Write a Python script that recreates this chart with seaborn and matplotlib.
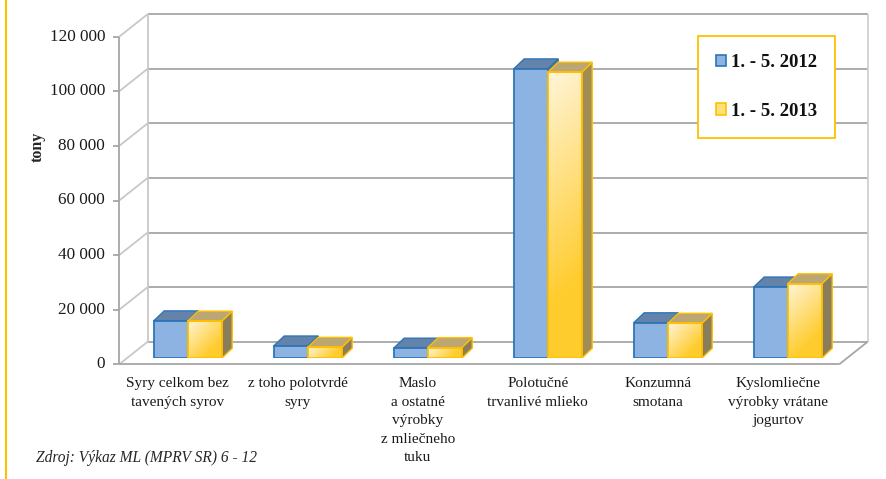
import numpy as np
import pandas as pd
import matplotlib
matplotlib.use("Agg")
import matplotlib.pyplot as plt
import seaborn as sns
from matplotlib.patches import Polygon, Patch
from matplotlib.lines import Line2D

# ---------------- data ----------------
categories = [
    "Syry celkom bez\ntavených syrov",
    "z toho polotvrdé\nsyry",
    "Maslo\na ostatné\nvýrobky\nz mliečneho\ntuku",
    "Polotučné\ntrvanlivé mlieko",
    "Konzumná\nsmotana",
    "Kyslomliečne\nvýrobky vrátane\njogurtov",
]
series_names = ["1. - 5. 2012", "1. - 5. 2013"]
values_2012 = [13700, 4500, 3700, 106000, 13000, 26100]
values_2013 = [13600, 4000, 3900, 104800, 12800, 27300]
y_ticks = [0, 20000, 40000, 60000, 80000, 100000, 120000]
y_tick_labels = ["0", "20 000", "40 000", "60 000", "80 000", "100 000", "120 000"]
y_label = "tony"
source_text = "Zdroj: Výkaz ML (MPRV SR) 6 - 12"

# ---------------- style ----------------
sns.set_style("white")
plt.rcParams["font.family"] = ["Liberation Serif", "DejaVu Serif"]

W, H = 887, 479
fig = plt.figure(figsize=(W / 100, H / 100), dpi=100)

# bar plane axes (pixel geometry)
ax_left, ax_right = 127.7, 847.7
ax_bottom_px, ax_top_px = 358.3, 30.7
ax = fig.add_axes([ax_left / W, (H - ax_bottom_px) / H,
                   (ax_right - ax_left) / W, (ax_bottom_px - ax_top_px) / H])

blue, blue_edge, blue_top = "#8DB3E2", "#2E75B6", "#6383AA"
yel_edge, yel_top, yel_side = "#FFC000", "#BCA673", "#8A7D5C"

df = pd.DataFrame({
    "cat": categories * 2,
    "val": values_2012 + values_2013,
    "series": [series_names[0]] * len(categories) + [series_names[1]] * len(categories),
})
sns.barplot(data=df, x="cat", y="val", hue="series", palette=[blue, "#FFD84D"],
            width=0.567, saturation=1, ax=ax, legend=False,
            edgecolor=blue_edge, linewidth=1.3)

xmin, xmax = -0.5, len(categories) - 0.5
ymin, ymax = y_ticks[0], y_ticks[-1]
ax.set_xlim(xmin, xmax)
ax.set_ylim(ymin, ymax)
ax.axis("off")

sx = (ax_right - ax_left) / (xmax - xmin)      # px per category unit
sy = (ax_bottom_px - ax_top_px) / (ymax - ymin)  # px per value unit


def P(x, y, dpx=0.0, dpy=0.0):
    """data point shifted by pixel offsets (dpx right, dpy up)"""
    return (x + dpx / sx, y + dpy / sy)


BACK = (20.0, 16.6)
FRONT = (-8.5, -6.0)
grid_c, wall_c = "#A6A6A6", "#C8C8C8"


def seg(p, q, color, lw=1.3, z=1):
    ax.add_line(Line2D([p[0], q[0]], [p[1], q[1]], color=color, lw=lw,
                       zorder=z, clip_on=False, solid_capstyle="butt"))


# back wall grid + left wall diagonals
for t, lab in zip(y_ticks, y_tick_labels):
    seg(P(xmin, t, *BACK), P(xmax, t, *BACK), grid_c)
    seg(P(xmin, t, *FRONT), P(xmin, t, *BACK), wall_c)
    # tick marks on front axis
    seg(P(xmin, t, FRONT[0] - 6, FRONT[1]), P(xmin, t, *FRONT), grid_c)
    ax.text(*P(xmin, t, FRONT[0] - 14, FRONT[1]), lab,
            ha="right", va="center", fontsize=12.3, color="#1A1A1A")
seg(P(xmin, ymin, *BACK), P(xmin, ymax, *BACK), wall_c)
seg(P(xmax, ymin, *BACK), P(xmax, ymax, *BACK), "#D0D0D0")
seg(P(xmin, ymin, *FRONT), P(xmin, ymax, *FRONT), grid_c)
# floor
seg(P(xmin, ymin, *FRONT), P(xmax, ymin, *FRONT), grid_c)
seg(P(xmax, ymin, *FRONT), P(xmax, ymin, *BACK), grid_c)

# category labels
for i, c in enumerate(categories):
    ax.text(*P(i, ymin, -10, FRONT[1] - 13), c, ha="center", va="top",
            fontsize=11, linespacing=1.55, color="#1A1A1A")

# ---------------- 3D faces ----------------
DX, DY = 10.5, 10.0
bars = [p for p in ax.patches if p.get_height() > 0]
n = len(categories)
light = np.array([255, 245, 218]) / 255
dark = np.array([255, 204, 46]) / 255
for k, p in enumerate(bars):
    x0, w, h = p.get_x(), p.get_width(), p.get_height()
    is_blue = k < n
    top = [(x0, h), (x0 + w, h), P(x0 + w, h, DX, DY), P(x0, h, DX, DY)]
    side = [(x0 + w, 0), (x0 + w, h), P(x0 + w, h, DX, DY), P(x0 + w, 0, DX, DY)]
    if is_blue:
        p.set_zorder(4)
        ax.add_patch(Polygon(side, closed=True, fc="#557299", ec=blue_edge, lw=1.0, zorder=3))
        ax.add_patch(Polygon(top, closed=True, fc=blue_top, ec=blue_edge, lw=1.0, zorder=3))
    else:
        Wp, Hp = w * sx, h * sy
        u = np.linspace(0, 1, 60)[None, :]
        v = np.linspace(0, 1, 200)[:, None]
        t = np.clip((u * Wp + v * Hp) / (Wp + Hp) * 1.35, 0, 1)
        img = light[None, None, :] * (1 - t[..., None]) + dark[None, None, :] * t[..., None]
        ax.imshow(img, extent=(x0, x0 + w, 0, h), origin="upper", aspect="auto",
                  zorder=5, interpolation="bilinear")
        p.set_facecolor("none")
        p.set_edgecolor(yel_edge)
        p.set_zorder(6)
        sc = yel_side if h * sy < 150 else "#A08C55"
        ax.add_patch(Polygon(side, closed=True, fc=sc, ec=yel_edge, lw=1.0, zorder=5.5))
        ax.add_patch(Polygon(top, closed=True, fc=yel_top, ec=yel_edge, lw=1.0, zorder=5.5))

ax.set_xlim(xmin, xmax)
ax.set_ylim(ymin, ymax)

# ---------------- legend ----------------
handles = [Patch(facecolor=blue, edgecolor=blue_edge, lw=1.2),
           Patch(facecolor="#FFE17A", edgecolor=yel_edge, lw=1.2)]
leg = fig.legend(handles, series_names, loc="upper left",
                 bbox_to_anchor=(698 / W, 1 - 36 / H), borderaxespad=0,
                 prop={"weight": "bold", "size": 13.5}, handlelength=0.55,
                 handleheight=0.55, handletextpad=0.25, labelspacing=1.7,
                 borderpad=0.95, fancybox=False, framealpha=1)
leg.get_frame().set_edgecolor(yel_edge)
leg.get_frame().set_linewidth(1.3)
for txt in leg.get_texts():
    txt.set_color("#111111")

# axis title and source
fig.text(38 / W, 1 - 147 / H, y_label, rotation=90, ha="center", va="center",
         fontsize=11.5, weight="bold")
fig.text(36 / W, 1 - 458 / H, source_text, ha="left", va="center",
         fontsize=11.2, style="italic")

# left decorative border
fig.add_artist(Line2D([6 / W, 6 / W], [0, 1], transform=fig.transFigure,
                      color="#FFC000", lw=1.5))

fig.savefig("out.png", dpi=100)
